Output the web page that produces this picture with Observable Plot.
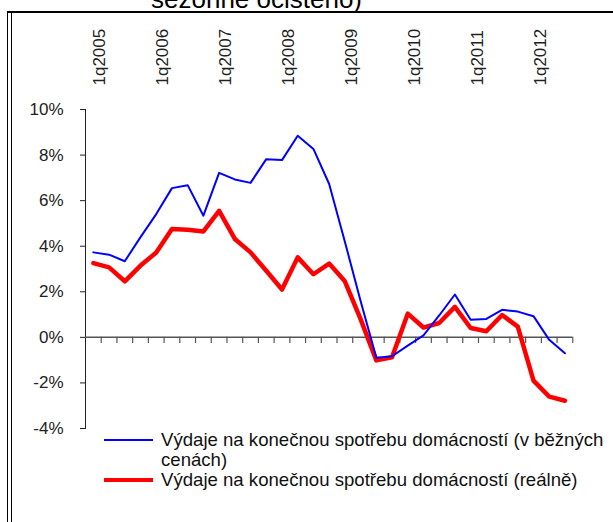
<!DOCTYPE html>
<html>
<head>
<meta charset="utf-8">
<script src="https://cdn.jsdelivr.net/npm/d3@7"></script>
<script src="https://cdn.jsdelivr.net/npm/@observablehq/plot@0.6"></script>
<style>
  html, body { margin: 0; padding: 0; background: #fff; }
  #wrap { position: relative; width: 613px; height: 522px; overflow: hidden; font-family: Arial, "Liberation Sans", sans-serif; }
  #chart { position: absolute; left: 0; top: 0; }
  .title { position: absolute; left: 151px; top: -14px; font-size: 26px; line-height: 26px; color: #000; white-space: nowrap; }
  .bTop { position: absolute; left: 7px; top: 11px; width: 606px; height: 2px; background: #000; }
  .bL1 { position: absolute; left: 7px; top: 11px; width: 1px; height: 511px; background: #000; }
  .bL2 { position: absolute; left: 11px; top: 13px; width: 1px; height: 509px; background: #000; }
  #legend { position: absolute; left: 104px; top: 430px; width: 510px; font-size: 18.6px; line-height: 20px; color: #111; }
  .row { display: flex; align-items: flex-start; }
  .sw { width: 57px; flex: none; height: 20px; position: relative; }
  .sw span { position: absolute; left: 0; width: 49px; top: 50%; }
  .txt { width: 468px; }
</style>
</head>
<body>
<div id="wrap">
  <div class="title">sezónně očištěno)</div>
  <div class="bTop"></div><div class="bL1"></div><div class="bL2"></div>
  <div id="chart"></div>
  <div id="legend"></div>
</div>
<script>
const quarters = ["1q2005","2q2005","3q2005","4q2005","1q2006","2q2006","3q2006","4q2006",
  "1q2007","2q2007","3q2007","4q2007","1q2008","2q2008","3q2008","4q2008",
  "1q2009","2q2009","3q2009","4q2009","1q2010","2q2010","3q2010","4q2010",
  "1q2011","2q2011","3q2011","4q2011","1q2012","2q2012","3q2012"];
const nominal = [3.73, 3.63, 3.34, 4.4, 5.41, 6.55, 6.68, 5.34, 7.22, 6.93, 6.78, 7.82, 7.78, 8.85, 8.27, 6.73,
  4.2, 1.6, -0.89, -0.83, -0.36, 0.09, 0.96, 1.88, 0.77, 0.81, 1.21, 1.13, 0.93, -0.11, -0.7];
const real = [3.26, 3.07, 2.46, 3.15, 3.72, 4.76, 4.72, 4.65, 5.55, 4.32, 3.73, 2.92, 2.1, 3.51, 2.77, 3.24,
  2.46, 0.8, -1.01, -0.87, 1.04, 0.43, 0.63, 1.34, 0.41, 0.27, 0.98, 0.47, -1.9, -2.6, -2.78];
const xTickLabels = ["1q2005","1q2006","1q2007","1q2008","1q2009","1q2010","1q2011","1q2012"];
const yTicks = [-4, -2, 0, 2, 4, 6, 8, 10];
const seriesNames = ["Výdaje na konečnou spotřebu domácností (v běžných cenách)",
  "Výdaje na konečnou spotřebu domácností (reálně)"];
const seriesColors = ["#0000FF", "#FF0000"];
const seriesWidths = [2, 4.5];

const n = quarters.length;
const dataN = quarters.map((q, i) => ({i: i + 0.5, q, v: nominal[i]}));
const dataR = quarters.map((q, i) => ({i: i + 0.5, q, v: real[i]}));
const labels = xTickLabels.map(t => ({i: quarters.indexOf(t) + 0.5, t}));
const bounds = d3.range(1, n + 1);

const chart = Plot.plot({
  width: 613,
  height: 522,
  marginTop: 109,
  marginBottom: 94,
  marginLeft: 85,
  marginRight: 40.7,
  style: {fontFamily: "Arial, 'Liberation Sans', sans-serif", fontSize: "17px", color: "#222", background: "transparent"},
  x: {domain: [0, n], axis: null},
  y: {domain: [-4, 10], ticks: yTicks, tickFormat: d => d + "%", tickSize: 5, tickPadding: 17, line: true, label: null},
  marks: [
    Plot.ruleY([0], {stroke: "#555", strokeWidth: 1.5}),
    Plot.ruleX(bounds, {x: d => d, y1: 0, y2: -0.27, stroke: "#555", strokeWidth: 1.2}),
    Plot.text(labels, {x: "i", text: "t", frameAnchor: "top", rotate: -90, textAnchor: "start", dy: -24, fill: "#222"}),
    Plot.line(dataR, {x: "i", y: "v", stroke: seriesColors[1], strokeWidth: seriesWidths[1], strokeLinejoin: "round"}),
    Plot.line(dataN, {x: "i", y: "v", stroke: seriesColors[0], strokeWidth: seriesWidths[0], strokeLinejoin: "round"})
  ]
});
document.getElementById("chart").appendChild(chart);

const legend = document.getElementById("legend");
seriesNames.forEach((name, k) => {
  const row = document.createElement("div");
  row.className = "row";
  const sw = document.createElement("div");
  sw.className = "sw";
  const ln = document.createElement("span");
  ln.style.height = seriesWidths[k] + "px";
  ln.style.marginTop = (-seriesWidths[k] / 2) + "px";
  ln.style.background = seriesColors[k];
  sw.appendChild(ln);
  const tx = document.createElement("div");
  tx.className = "txt";
  tx.textContent = name;
  row.appendChild(sw);
  row.appendChild(tx);
  legend.appendChild(row);
});
</script>
</body>
</html>
